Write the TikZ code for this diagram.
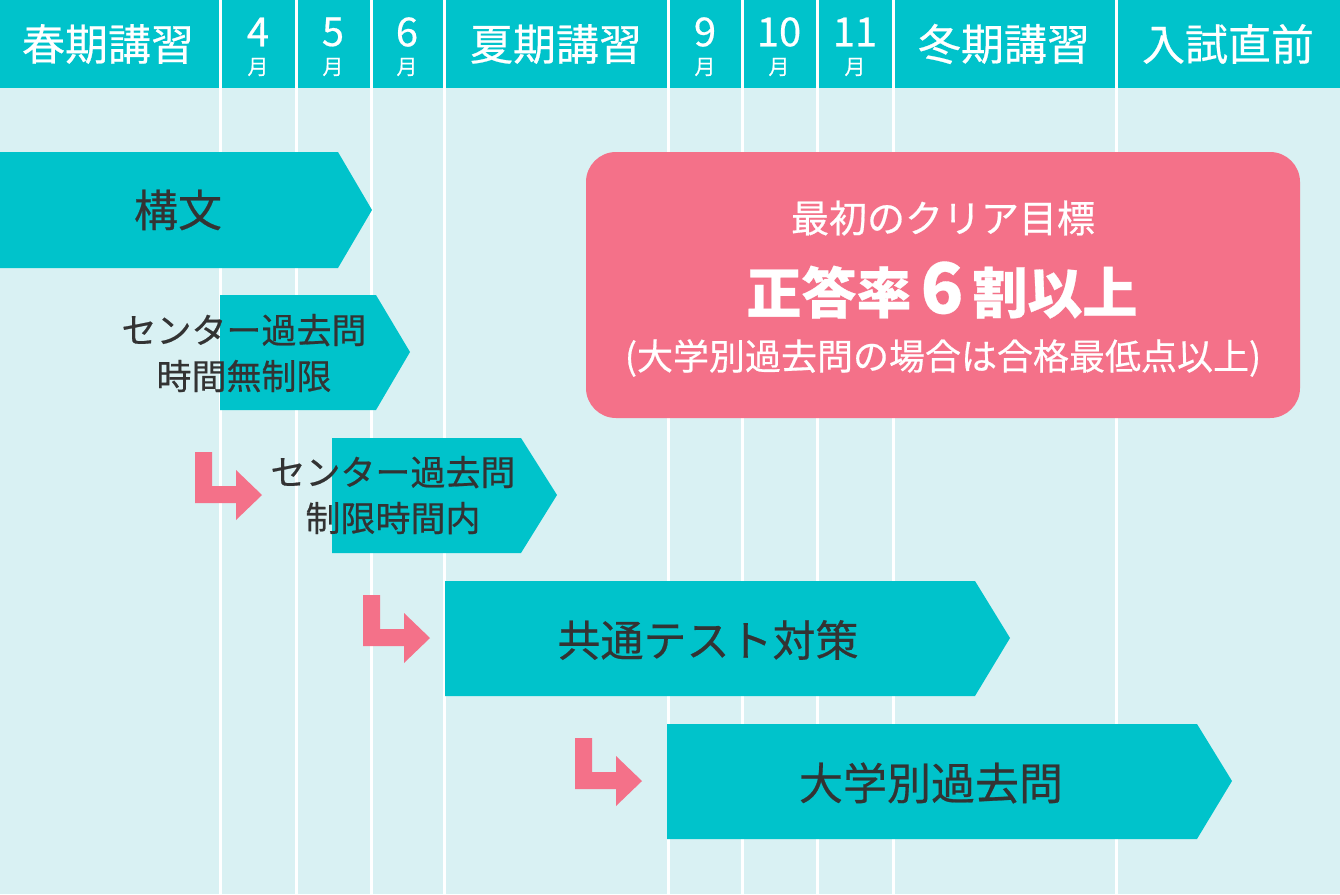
\documentclass[tikz,border=0pt]{standalone}
\usepackage{fontspec}
\setmainfont{Noto Sans CJK JP}[FakeBold=0.5]
\definecolor{teal1}{HTML}{00C3CB}
\definecolor{bgl}{HTML}{D9F1F3}
\definecolor{pink1}{HTML}{F47189}
\definecolor{ink}{HTML}{333333}
\begin{document}
\begin{tikzpicture}[x=1pt,y=-1pt,
  hdr/.style={text=white,inner sep=0pt,font=\fontsize{43}{43}\selectfont},
  mnum/.style={text=white,inner sep=0pt,font=\fontsize{40}{40}\selectfont},
  mtsu/.style={text=white,inner sep=0pt,font=\fontsize{21}{21}\selectfont},
  bartext/.style={text=ink,inner sep=0pt,font=\fontsize{44}{44}\selectfont},
  subtext/.style={text=ink,inner sep=0pt,align=center,font=\fontsize{35}{46}\selectfont},
  goaltext/.style={text=white,inner sep=0pt},
  larrow/.pic={\fill[pink1] (0,0) -- (17,0) -- (17,34) -- (41,34) -- (41,18) -- (67,43) -- (41,68) -- (41,51) -- (0,51) -- cycle;}]
\useasboundingbox (0,0) rectangle (1340,894);
\fill[bgl] (0,0) rectangle (1340,894);
\fill[teal1] (0,0) rectangle (1340,88);
\foreach \x in {220,296,371,444,668,742,817,893,1116}
  \draw[white,line width=3pt] (\x,0) -- (\x,894);
% header labels
\node[hdr] (h1) at (108,44) {春期講習};
\node[hdr] (h5) at (556,44) {夏期講習};
\node[hdr] (h9) at (1004,44) {冬期講習};
\node[hdr] (h10) at (1228,44) {入試直前};
\foreach \x/\m [count=\i] in {258/4,333/5,407/6,705/9,779/10,855/11}{
  \node[mnum] (m\i) at (\x,32) {\m};
  \node[mtsu] (t\i) at (\x,67) {月};
}
% bars
\fill[teal1] (0,152) -- (338,152) -- (372,210) -- (338,268) -- (0,268) -- cycle;
\fill[teal1] (220,295) -- (376,295) -- (410,352) -- (376,410) -- (220,410) -- cycle;
\fill[teal1] (332,438) -- (521,438) -- (557,495) -- (521,553) -- (332,553) -- cycle;
\fill[teal1] (445,581) -- (975,581) -- (1010,638) -- (975,696) -- (445,696) -- cycle;
\fill[teal1] (667,724) -- (1197,724) -- (1232,781) -- (1197,839) -- (667,839) -- cycle;
\node[bartext] (b1) at (178,210) {構文};
\node[subtext] (b2) at (244,353) {センター過去問\\時間無制限};
\node[subtext] (b3) at (393,495) {センター過去問\\制限時間内};
\node[bartext,font=\fontsize{43}{43}\selectfont] (b4) at (708,640) {共通テスト対策};
\node[bartext] (b5) at (931,783) {大学別過去問};
% pink arrows
\pic at (195,452) {larrow};
\pic at (363,595) {larrow};
\pic at (575,738) {larrow};
% goal box
\fill[pink1,rounded corners=30pt] (586,152) rectangle (1300,418);
\node[goaltext,font=\fontsize{38}{38}\selectfont] (g1) at (943,218) {最初のクリア目標};
\node[goaltext,font=\fontsize{55}{55}\selectfont\bfseries] (g2) at (942,290) {正答率\,{\fontsize{70}{70}\selectfont 6}\,割以上};
\node[goaltext,font=\fontsize{36}{36}\selectfont] (g3) at (943,358) {(大学別過去問の場合は合格最低点以上)};
\end{tikzpicture}
\end{document}
